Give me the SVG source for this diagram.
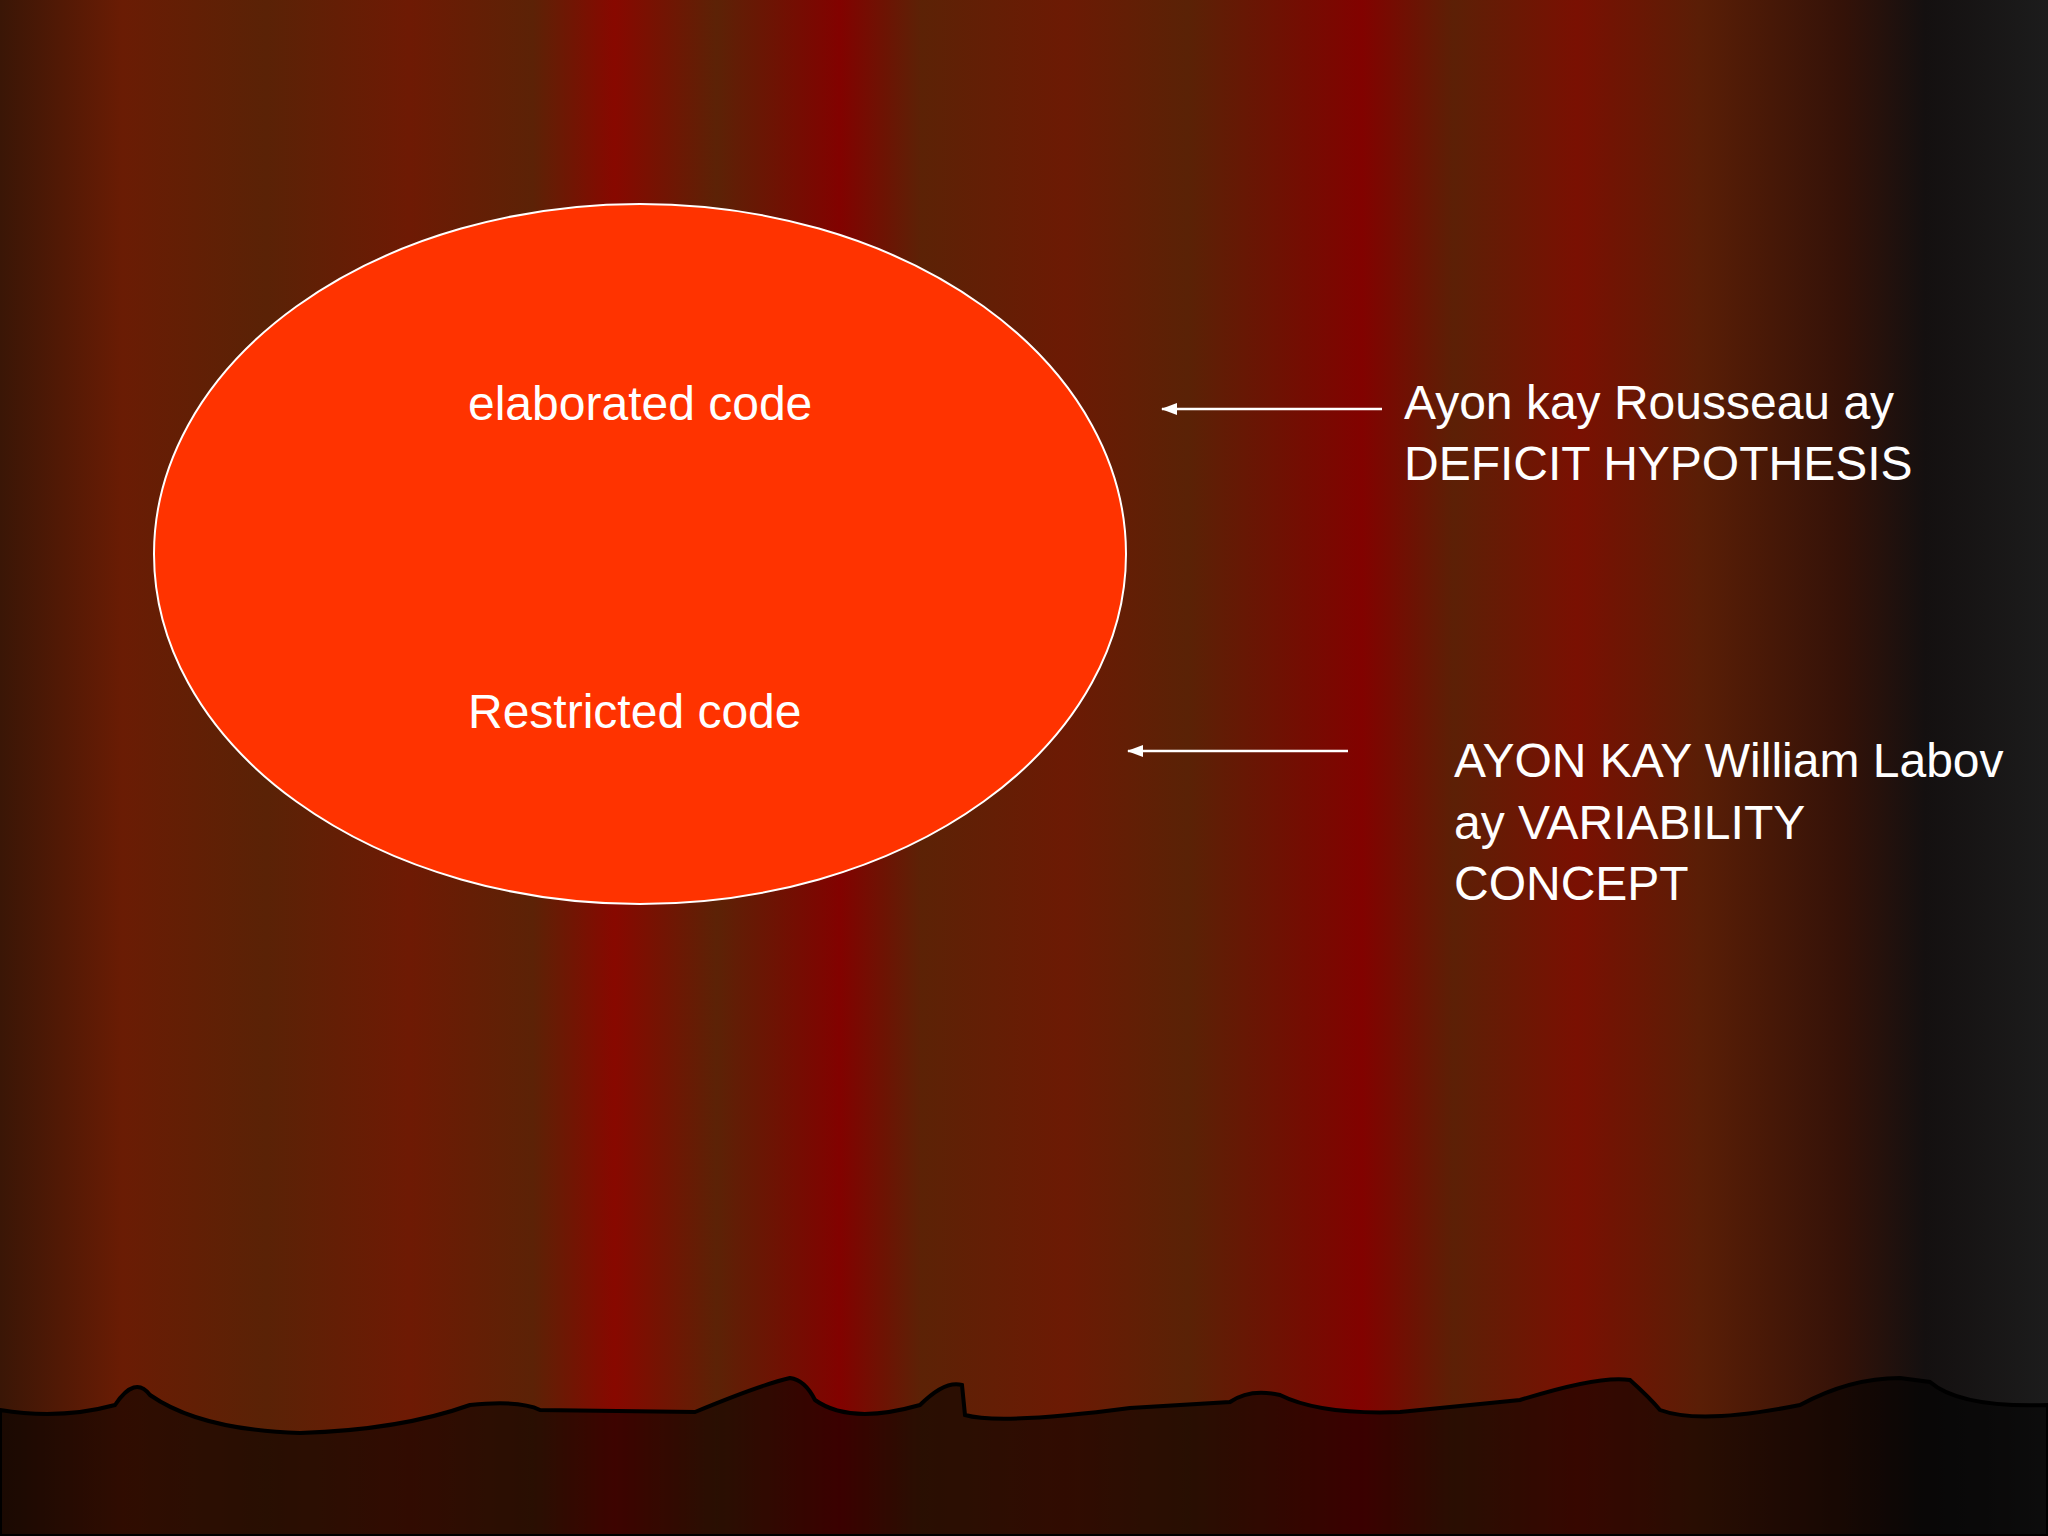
<svg xmlns="http://www.w3.org/2000/svg" width="2048" height="1536" viewBox="0 0 2048 1536">
<defs>
<linearGradient id="bg" x1="0" y1="0" x2="1" y2="0">
<stop offset="0" stop-color="#3a1606"/>
<stop offset="0.06" stop-color="#6a1c04"/>
<stop offset="0.13" stop-color="#5a2206"/>
<stop offset="0.2" stop-color="#6e1a04"/>
<stop offset="0.26" stop-color="#5c2206"/>
<stop offset="0.3" stop-color="#880800"/>
<stop offset="0.35" stop-color="#5c2206"/>
<stop offset="0.41" stop-color="#820200"/>
<stop offset="0.45" stop-color="#5c2206"/>
<stop offset="0.52" stop-color="#6c1a04"/>
<stop offset="0.58" stop-color="#5a2206"/>
<stop offset="0.665" stop-color="#820200"/>
<stop offset="0.71" stop-color="#5c2006"/>
<stop offset="0.77" stop-color="#7a1002"/>
<stop offset="0.83" stop-color="#5a1e06"/>
<stop offset="0.9" stop-color="#341208"/>
<stop offset="0.94" stop-color="#141010"/>
<stop offset="1" stop-color="#1c1c1c"/>
</linearGradient>
<marker id="ah" markerWidth="16" markerHeight="12" refX="1" refY="6" orient="auto" markerUnits="userSpaceOnUse"><path d="M16,0 L0,6 L16,12 z" fill="#fff"/></marker>
<style>
.t{font-family:"Liberation Sans",Arial,sans-serif;font-size:48px;fill:#fff}
.c{stroke:#fff;stroke-width:2.5;fill:none;marker-start:url(#ah)}
</style>
</defs>
<rect width="2048" height="1536" fill="url(#bg)"/>
<path d="M0,1410 Q60,1420 115,1405 Q135,1375 150,1395 Q200,1430 300,1433 Q400,1430 470,1405 Q520,1400 540,1410 L695,1412 Q760,1385 790,1378 Q805,1380 815,1400 Q850,1425 920,1405 Q945,1380 962,1385 L965,1415 Q1000,1425 1130,1408 L1230,1402 Q1250,1388 1280,1395 Q1320,1415 1400,1412 L1520,1400 Q1600,1375 1630,1380 Q1650,1398 1660,1410 Q1700,1425 1800,1405 Q1850,1378 1900,1378 L1930,1382 Q1960,1408 2048,1405 L2048,1536 L0,1536 Z" fill="#000" fill-opacity="0.55" stroke="#000" stroke-width="4"/>
<g id="ellipse"><ellipse cx="640" cy="554" rx="486" ry="350" fill="#ff3300" stroke="#fff" stroke-width="2"/>
<text class="t" x="468" y="420">elaborated code</text>
<text class="t" x="468" y="728">Restricted code</text></g>
<g id="connectors">
<line class="c" x1="1162" y1="409" x2="1382" y2="409"/>
<line class="c" x1="1128" y1="751" x2="1348" y2="751"/>
</g>
<g id="label1"><text class="t" x="1404" y="419">Ayon kay Rousseau ay</text><text class="t" x="1404" y="480">DEFICIT HYPOTHESIS</text></g>
<g id="label2"><text class="t" x="1454" y="777">AYON KAY William Labov</text><text class="t" x="1454" y="839">ay VARIABILITY</text><text class="t" x="1454" y="900">CONCEPT</text></g>
</svg>
